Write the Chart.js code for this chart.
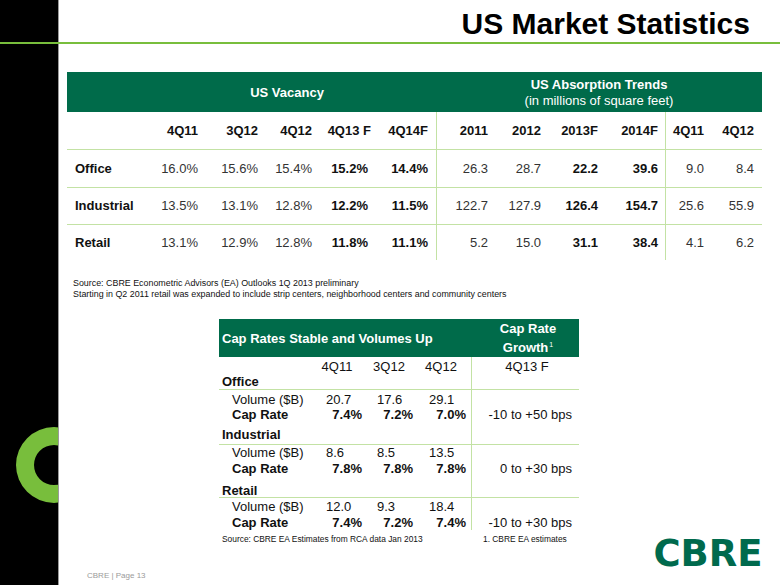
<!DOCTYPE html>
<html>
<head>
<meta charset="utf-8">
<script src="https://cdn.jsdelivr.net/npm/chart.js@4.4.1/dist/chart.umd.min.js"></script>
<style>
  html, body { margin: 0; padding: 0; }
  body { width: 780px; height: 585px; position: relative; overflow: hidden; background: #fff;
         font-family: "Liberation Sans", Arial, Helvetica, sans-serif; color: #222; }
  .abs { position: absolute; white-space: nowrap; }
  .box { position: absolute; }
</style>
</head>
<body>
<div id="page"></div>
<script>
// ---------------- DATA ----------------
const pageTitle = 'US Market Statistics';
const sectors = ['Office', 'Industrial', 'Retail'];

const vacancyTitle = 'US Vacancy';
const vacancyPeriods = ['4Q11', '3Q12', '4Q12', '4Q13 F', '4Q14F'];
const vacancyOffice = [16.0, 15.6, 15.4, 15.2, 14.4];
const vacancyIndustrial = [13.5, 13.1, 12.8, 12.2, 11.5];
const vacancyRetail = [13.1, 12.9, 12.8, 11.8, 11.1];
const vacancyBold = [false, false, false, true, true];

const absorptionTitle = 'US Absorption Trends';
const absorptionSubtitle = '(in millions of square feet)';
const absorptionPeriods = ['2011', '2012', '2013F', '2014F', '4Q11', '4Q12'];
const absorptionOffice = [26.3, 28.7, 22.2, 39.6, 9.0, 8.4];
const absorptionIndustrial = [122.7, 127.9, 126.4, 154.7, 25.6, 55.9];
const absorptionRetail = [5.2, 15.0, 31.1, 38.4, 4.1, 6.2];
const absorptionBold = [false, false, true, true, false, false];

const sourceNotes = [
  'Source: CBRE Econometric Advisors (EA) Outlooks 1Q 2013 preliminary',
  'Starting in Q2 2011 retail was expanded to include strip centers, neighborhood centers and community centers'
];

const capTitle = 'Cap Rates Stable and Volumes Up';
const capGrowthTitle = ['Cap Rate', 'Growth'];
const capPeriods = ['4Q11', '3Q12', '4Q12'];
const capGrowthPeriod = '4Q13 F';
const volumeOffice = [20.7, 17.6, 29.1];
const volumeIndustrial = [8.6, 8.5, 13.5];
const volumeRetail = [12.0, 9.3, 18.4];
const capRateOffice = [7.4, 7.2, 7.0];
const capRateIndustrial = [7.8, 7.8, 7.8];
const capRateRetail = [7.4, 7.2, 7.4];
const capGrowth = ['-10 to +50 bps', '0 to +30 bps', '-10 to +30 bps'];
const capSource = 'Source: CBRE EA Estimates from RCA data Jan 2013';
const capFootnote = '1. CBRE EA  estimates';
const footerText = 'CBRE  |  Page 13';
const logoText = 'CBRE';
const ringValues = [1];

// ---------------- STYLE / LAYOUT ----------------
const FONT = '"Liberation Sans", Arial, Helvetica, sans-serif';
const DARK_GREEN = '#006B4A';
const LIGHT_LINE = '#C3E2A4';
const BRIGHT_GREEN = '#78BE3C';
const page = document.getElementById('page');

function rect(x, y, w, h, color) {
  const d = document.createElement('div');
  d.className = 'box';
  d.style.cssText = `left:${x}px;top:${y}px;width:${w}px;height:${h}px;background:${color};`;
  page.appendChild(d);
  return d;
}
// place text with cap-height centre at cy; align: 'left' | 'right' | 'center'
function text(str, x, cy, o = {}) {
  const fs = o.size || 13;
  const d = document.createElement('div');
  d.className = 'abs';
  d.innerHTML = str;
  const top = cy - 0.5885 * fs;
  let tf = '';
  if (o.align === 'right') tf = 'transform:translateX(-100%);';
  else if (o.align === 'center') tf = 'transform:translateX(-50%);';
  d.style.cssText = `left:${x}px;top:${top}px;font-size:${fs}px;line-height:${1.2 * fs}px;` +
    `font-weight:${o.bold ? 'bold' : 'normal'};color:${o.color || '#222'};font-family:${o.font || FONT};` + tf +
    (o.extra || '');
  page.appendChild(d);
  return d;
}

// Left black bar and top rule
rect(0, 0, 58, 585, '#000');
rect(58, 0, 1, 585, '#9a9a9a');
rect(0, 42, 780, 2, BRIGHT_GREEN);

// Title
text(pageTitle, 750, 23.5, { size: 30, bold: true, align: 'right', color: '#000' });

// ---------- Vacancy / Absorption table ----------
rect(67, 72, 695, 40, DARK_GREEN);
text(vacancyTitle, 287, 93, { bold: true, align: 'center', color: '#fff' });
text(absorptionTitle, 599, 85, { bold: true, align: 'center', color: '#fff' });
text(absorptionSubtitle, 599, 101, { align: 'center', color: '#fff' });

const vacHeadX = [198, 258, 312, 371, 428];
const vacValX = [198, 258, 312, 368, 428];
const absX = [488, 541, 598, 658, 704, 754];
const rowY = [169, 206, 243];
const headY = 131;

vacancyPeriods.forEach((p, i) => text(p, vacHeadX[i], headY, { bold: true, align: 'right', color: '#111' }));
absorptionPeriods.forEach((p, i) => text(p, absX[i], headY, { bold: true, align: 'right', color: '#111' }));

const vacRows = [vacancyOffice, vacancyIndustrial, vacancyRetail];
const absRows = [absorptionOffice, absorptionIndustrial, absorptionRetail];
sectors.forEach((s, r) => {
  text(s, 75, rowY[r], { bold: true, color: '#111' });
  vacRows[r].forEach((v, i) => text(v.toFixed(1) + '%', vacValX[i], rowY[r], { bold: vacancyBold[i], align: 'right', color: vacancyBold[i] ? '#111' : '#333' }));
  absRows[r].forEach((v, i) => text(v.toFixed(1), absX[i], rowY[r], { bold: absorptionBold[i], align: 'right', color: absorptionBold[i] ? '#111' : '#333' }));
});
[149, 187, 224].forEach(y => rect(67, y, 695, 1, LIGHT_LINE));
rect(436, 112, 1, 148, LIGHT_LINE);
rect(665, 112, 1, 148, LIGHT_LINE);

// Source notes
text(sourceNotes[0], 73, 283.5, { size: 8.9, color: '#111' });
text(sourceNotes[1], 73, 294.5, { size: 8.9, color: '#111' });

// ---------- Cap rate table ----------
rect(219, 319, 360, 38, DARK_GREEN);
text(capTitle, 222, 339, { bold: true, color: '#fff' });
text(capGrowthTitle[0], 528, 329, { bold: true, align: 'center', color: '#fff' });
text(capGrowthTitle[1] + '<span style="font-size:7px;position:relative;top:-5px;font-weight:normal;margin-left:1px;">1</span>', 528, 348, { bold: true, align: 'center', color: '#fff' });

const capHeadX = [337, 389, 441];
capPeriods.forEach((p, i) => text(p, capHeadX[i], 367, { align: 'center', color: '#111' }));
text(capGrowthPeriod, 527, 367, { align: 'center', color: '#111' });

const secY = [382, 435, 491];
const sepY = [389, 444, 497];
const volY = [400, 453, 507];
const capY = [415, 469, 523];
const volX = [326, 377, 429];
const capX = [362, 413, 466];
const volRows = [volumeOffice, volumeIndustrial, volumeRetail];
const capRows = [capRateOffice, capRateIndustrial, capRateRetail];

sectors.forEach((s, r) => {
  text(s, 222, secY[r], { bold: true, color: '#111' });
  rect(219, sepY[r], 360, 1, LIGHT_LINE);
  text('Volume ($B)', 232, volY[r], { color: '#111' });
  text('Cap Rate', 232, capY[r], { bold: true, color: '#111' });
  volRows[r].forEach((v, i) => text(v.toFixed(1), volX[i], volY[r], { color: '#111' }));
  capRows[r].forEach((v, i) => text(v.toFixed(1) + '%', capX[i], capY[r], { bold: true, align: 'right', color: '#111' }));
  text(capGrowth[r], 572, capY[r], { align: 'right', color: '#111' });
});
rect(471, 357, 1, 173, LIGHT_LINE);

text(capSource, 222, 539, { size: 8.4, color: '#111' });
text(capFootnote, 483, 539, { size: 8.4, color: '#111' });

// Footer
text(footerText, 87, 576, { size: 8, color: '#9a9a9a' });

// Logo
text(logoText, 708, 554, { size: 37, bold: true, align: 'center', color: '#006A4D', font: '"DejaVu Sans", sans-serif' });

// ---------- Green ring (drawn with Chart.js doughnut) ----------
const ringWrap = document.createElement('div');
ringWrap.style.cssText = 'position:absolute;left:16px;top:427px;width:42px;height:76px;overflow:hidden;';
const cv = document.createElement('canvas');
cv.width = 76; cv.height = 76;
cv.style.cssText = 'width:76px;height:76px;display:block;';
ringWrap.appendChild(cv);
page.appendChild(ringWrap);

new Chart(cv, {
  type: 'doughnut',
  data: { labels: ['ring'], datasets: [{ data: ringValues, backgroundColor: BRIGHT_GREEN, borderWidth: 0 }] },
  options: {
    responsive: false,
    animation: false,
    cutout: '52.6%',
    layout: { padding: 0 },
    events: [],
    plugins: { legend: { display: false }, tooltip: { enabled: false } }
  }
});
</script>
</body>
</html>
